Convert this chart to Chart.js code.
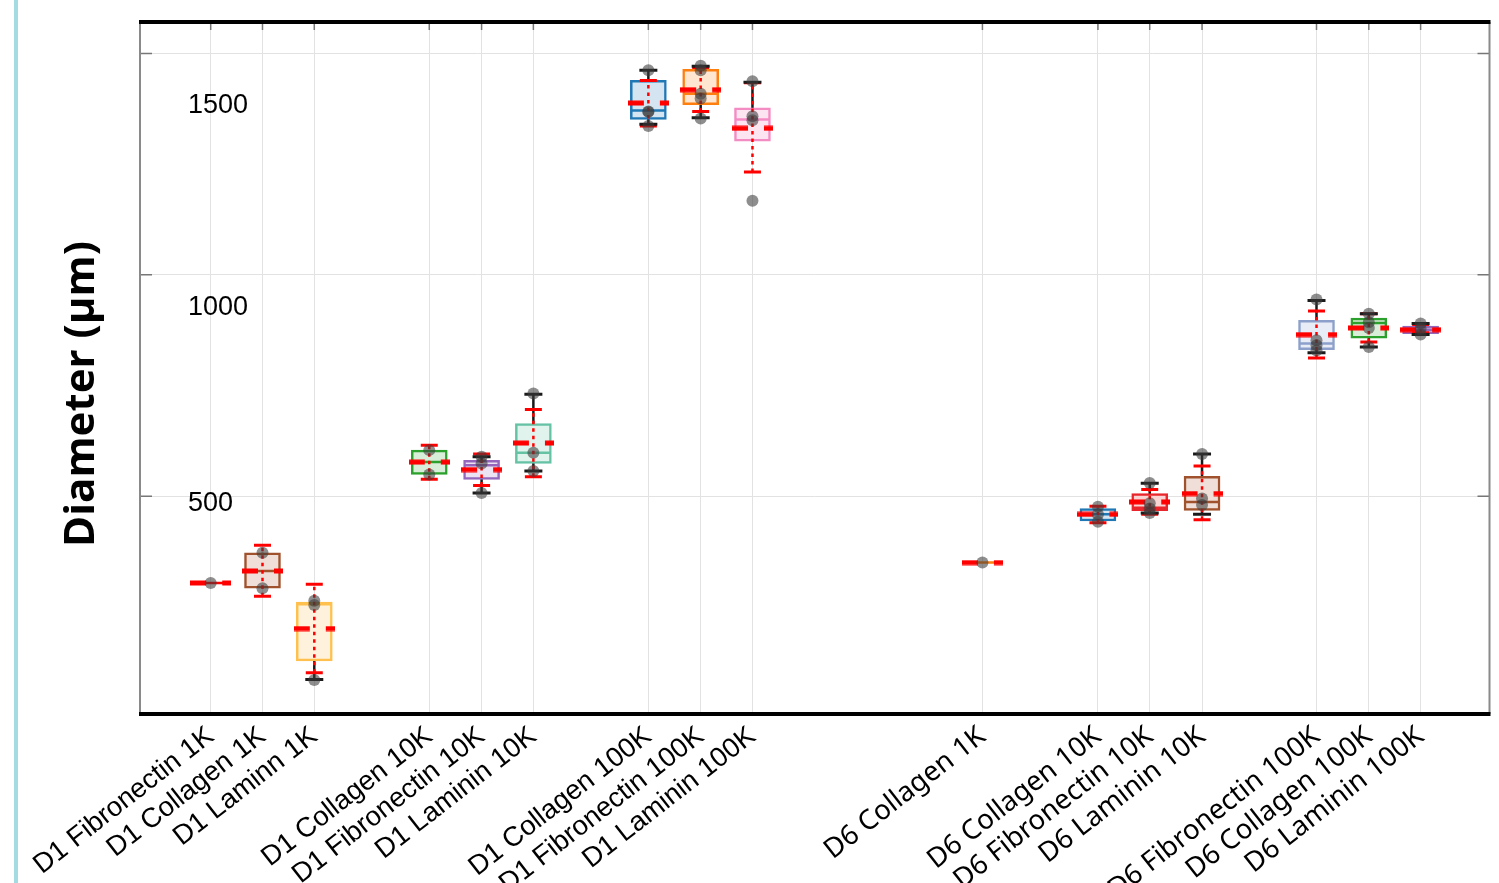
<!DOCTYPE html>
<html>
<head>
<meta charset="utf-8">
<script src="https://cdn.jsdelivr.net/npm/chart.js@4.4.1/dist/chart.umd.min.js"></script>
<style>
  html, body { margin: 0; padding: 0; background: #fff; }
  #wrap { position: relative; width: 1499px; height: 883px; }
  #edge { position: absolute; left: 14px; top: 0; width: 4px; height: 883px; background: #a6dae2; }
</style>
</head>
<body>
<div id="wrap">
  <canvas id="chart" width="1499" height="883"></canvas>
  <div id="edge"></div>
</div>
<script>
// categorie e posizioni sull'asse x (gruppi separati da spazi)
const categories = [
    'D1 Fibronectin 1K', 'D1 Collagen 1K', 'D1 Laminn 1K',
    'D1 Collagen 10K', 'D1 Fibronectin 10K', 'D1 Laminin 10K',
    'D1 Collagen 100K', 'D1 Fibronectin 100K', 'D1 Laminin 100K',
    'D6 Collagen 1K',
    'D6 Collagen 10K', 'D6 Fibronectin 10K', 'D6 Laminin 10K',
    'D6 Fibronectin 100K', 'D6 Collagen 100K', 'D6 Laminin 100K'
];
const xPos = [0, 1, 2, 4.22, 5.23, 6.23, 8.45, 9.46, 10.46, 14.9, 17.13, 18.13, 19.14, 21.35, 22.36, 23.36];

// box: quartili, mediana, baffi
const q1 =          [null, 292, 128, 549, 538, 574, 1351, 1384, 1302, null, 444, 467, 468, 831, 857, 867];
const q3 =          [null, 372, 261, 604, 581, 664, 1439, 1464, 1377, null, 472, 506, 545, 897, 902, 884];
const medians =     [304, 331, 256, 577, 570, 598, 1371, 1409, 1351, 350, 459, 474, 487, 845, 891, 876];
const whiskerLow =  [null, null, 86, null, 507, 557, 1340, 1355, null, null, null, 462, 459, 824, 837, 865];
const whiskerHigh = [null, null, null, null, 589, 730, 1462, 1471, 1435, null, null, 529, 595, 942, 912, 890];

// media +/- deviazione standard
const means =  [304, 331, 201, 577, 560, 620, 1388, 1418, 1331, 350, 459, 487, 506, 865, 880, 876];
const sdLow =  [null, 274, 101, 538, 524, 544, 1336, 1369, 1232, null, 440, 459, 447, 812, 848, 869];
const sdHigh = [null, 389, 301, 615, 595, 696, 1439, 1468, 1434, null, 477, 515, 568, 918, 912, 888];

// singole misure
const samples = [
    [304], [372, 292], [264, 254, 85],
    [604, 549], [589, 574, 507], [732, 598, 557],
    [1462, 1368, 1369, 1336], [1472, 1462, 1409, 1398, 1353], [1437, 1358, 1349, 1167],
    [350],
    [476, 459, 442], [530, 484, 472, 462], [595, 495, 480],
    [944, 852, 841, 829], [912, 893, 880, 837], [890, 878, 865]
];

const yTicks = [500, 1000, 1500];
const yTickText = ['500', '1000', '1500'];
const yTitle = 'Diameter (\u00b5m)';

// colori dei box
const boxLine = ['red', '#a0522d', '#ffc04d', '#2ca02c', '#9467bd', '#66c2a5', '#1f77b4', '#ff7f0e', '#f48cc4',
    '#ff7f0e', '#1f77b4', '#e8262b', '#a0522d', '#8da0cb', '#2ca02c', '#9467bd'];
const boxFill = ['#fff', '#efdfd8', '#fff2dc', '#d8eed8', '#ebe2f3', '#e0f4ed', '#d4e5f1', '#ffe6d0', '#fde4f1',
    '#fff', '#d4e5f1', '#fad3d3', '#efdfd8', '#e8ecf6', '#d8eed8', '#ebe2f3'];
const yLabelShift = [7, 33, 52];

const RED = 'rgb(255,0,0)';

function pts(values) {
    const out = [];
    values.forEach((v, i) => { if (v !== null) out.push({ x: xPos[i], y: v }); });
    return out;
}
function segs(lo, hi) {
    const out = [];
    lo.forEach((v, i) => {
        if (v === null || hi[i] === null) return;
        out.push({ x: xPos[i], y: v }, { x: xPos[i], y: hi[i] }, { x: xPos[i], y: null });
    });
    return out;
}
function pick(arr, values) {
    return values.map((v, i) => v === null ? null : arr[i]).filter(c => c !== null);
}

// linea tratteggiata rossa della media
const meanMark = document.createElement('canvas');
meanMark.width = 41;
meanMark.height = 6;
(() => {
    const c = meanMark.getContext('2d');
    c.strokeStyle = RED;
    c.lineWidth = 5;
    c.setLineDash([16, 16]);
    c.beginPath();
    c.moveTo(0, 3);
    c.lineTo(41, 3);
    c.stroke();
})();

const boxIdx = q1.map((v, i) => i).filter(i => q1[i] !== null);

const datasets = [
    {
        type: 'scatter', label: 'samples', order: 0,
        data: samples.flatMap((arr, i) => arr.map(v => ({ x: xPos[i], y: v }))),
        pointRadius: 6, pointBackgroundColor: 'rgba(60,60,60,0.58)', pointBorderWidth: 0
    },
    {
        type: 'scatter', label: 'mean', order: 1,
        data: pts(means), pointStyle: meanMark, pointRadius: 5
    },
    {
        type: 'scatter', label: 'whisker caps', order: 2,
        data: pts(whiskerLow).concat(pts(whiskerHigh)),
        pointStyle: 'line', pointRadius: 9, pointBorderWidth: 3, pointBorderColor: '#1a1a1a'
    },
    {
        type: 'scatter', label: 'sd caps', order: 3,
        data: pts(sdLow).concat(pts(sdHigh)),
        pointStyle: 'line', pointRadius: 8.5, pointBorderWidth: 3, pointBorderColor: RED
    },
    {
        type: 'line', label: 'sd', order: 4,
        data: segs(sdLow, sdHigh), spanGaps: false,
        borderColor: RED, borderWidth: 2.5, borderDash: [3.5, 4], pointRadius: 0
    },
    {
        type: 'scatter', label: 'median', order: 5,
        data: pts(medians), pointStyle: 'line', pointRadius: 17.5, pointBorderWidth: 2.5,
        pointBorderColor: pick(boxLine, medians)
    },
    {
        type: 'bar', label: 'box', order: 6,
        data: boxIdx.map(i => ({ x: xPos[i], y: [q1[i], q3[i]] })),
        backgroundColor: boxIdx.map(i => boxFill[i]),
        borderColor: boxIdx.map(i => boxLine[i]),
        borderWidth: 2.5, borderSkipped: false, barThickness: 36
    },
    {
        type: 'line', label: 'whisker', order: 7,
        data: segs(whiskerLow.map((v, i) => v === null ? q1[i] : v), whiskerHigh.map((v, i) => v === null ? q3[i] : v)),
        spanGaps: false, borderColor: '#1a1a1a', borderWidth: 2.5, pointRadius: 0
    }
];

const scales = {
    x: {
        type: 'linear', min: -1.365, max: 24.69, offset: false,
        afterBuildTicks: s => { s.ticks = xPos.map(v => ({ value: v })); },
        afterFit: s => { s.height = 169; s.paddingLeft = 0; s.paddingRight = 0; },
        grid: { color: '#e2e2e2', lineWidth: 1, drawTicks: false, offset: false },
        border: { display: false },
        ticks: {
            autoSkip: false, maxRotation: 38, minRotation: 38, padding: 6, color: '#000',
            font: ctx => ({ family: ctx.index >= 9 ? 'Noto Sans' : 'Liberation Sans', size: 27.5 }),
            callback: (v, i) => categories[i]
        }
    },
    y: {
        type: 'linear', position: 'left', min: 8, max: 1571, weight: 10,
        afterBuildTicks: s => { s.ticks = yTicks.map(v => ({ value: v })); },
        afterFit: s => { s.width = 140; s.paddingTop = 0; s.paddingBottom = 0; },
        grid: { color: '#e2e2e2', lineWidth: 1, drawTicks: false },
        border: { display: false },
        ticks: { display: false }
    }
};
// etichette y dentro l'area, ognuna col suo spostamento
yTicks.forEach((v, k) => {
    scales['yl' + k] = {
        type: 'linear', position: 'left', min: 8, max: 1571, weight: 0,
        afterBuildTicks: s => { s.ticks = [{ value: v }]; },
        afterFit: s => { s.width = 0; s.paddingTop = 0; s.paddingBottom = 0; },
        grid: { display: false, drawTicks: false },
        border: { display: false },
        ticks: {
            mirror: true, padding: 48, labelOffset: yLabelShift[k], color: '#000',
            font: { family: 'Liberation Sans', size: 27 },
            callback: () => yTickText[k]
        }
    };
});

const framePlugin = {
    id: 'frame',
    afterDatasetsDraw(chart) {
        const { ctx, chartArea: a } = chart;
        const xs = chart.scales.x, ys = chart.scales.y;
        ctx.save();
        // piccoli tick interni
        ctx.strokeStyle = '#777';
        ctx.lineWidth = 1.5;
        ctx.beginPath();
        xPos.forEach(v => {
            const px = xs.getPixelForValue(v);
            ctx.moveTo(px, a.top); ctx.lineTo(px, a.top + 8);
        });
        yTicks.forEach(v => {
            const py = ys.getPixelForValue(v);
            ctx.moveTo(a.left, py); ctx.lineTo(a.left + 12, py);
            ctx.moveTo(a.right, py); ctx.lineTo(a.right - 12, py);
        });
        ctx.stroke();
        ctx.strokeStyle = '#8a8a8a';
        ctx.lineWidth = 2;
        ctx.beginPath();
        ctx.moveTo(a.left, a.top); ctx.lineTo(a.left, a.bottom);
        ctx.moveTo(a.right, a.top); ctx.lineTo(a.right, a.bottom);
        ctx.stroke();
        ctx.strokeStyle = '#000';
        ctx.lineWidth = 4;
        ctx.beginPath();
        ctx.moveTo(a.left - 1, a.top); ctx.lineTo(a.right + 1, a.top);
        ctx.moveTo(a.left - 1, a.bottom); ctx.lineTo(a.right + 1, a.bottom);
        ctx.stroke();
        // titolo asse y
        ctx.translate(a.left - 58, (a.top + a.bottom) / 2 + 26);
        ctx.rotate(-Math.PI / 2);
        ctx.fillStyle = '#000';
        ctx.font = 'bold 42px "Open Sans"';
        ctx.textAlign = 'center';
        ctx.textBaseline = 'middle';
        ctx.fillText(yTitle, 0, 0);
        ctx.restore();
    }
};

new Chart(document.getElementById('chart'), {
    type: 'scatter',
    data: { datasets: datasets },
    options: {
        responsive: false,
        animation: false,
        events: [],
        layout: { autoPadding: false, padding: { top: 22, right: 9.5, left: 0, bottom: 0 } },
        plugins: { legend: { display: false }, tooltip: { enabled: false } },
        scales: scales
    },
    plugins: [framePlugin]
});
</script>
</body>
</html>
